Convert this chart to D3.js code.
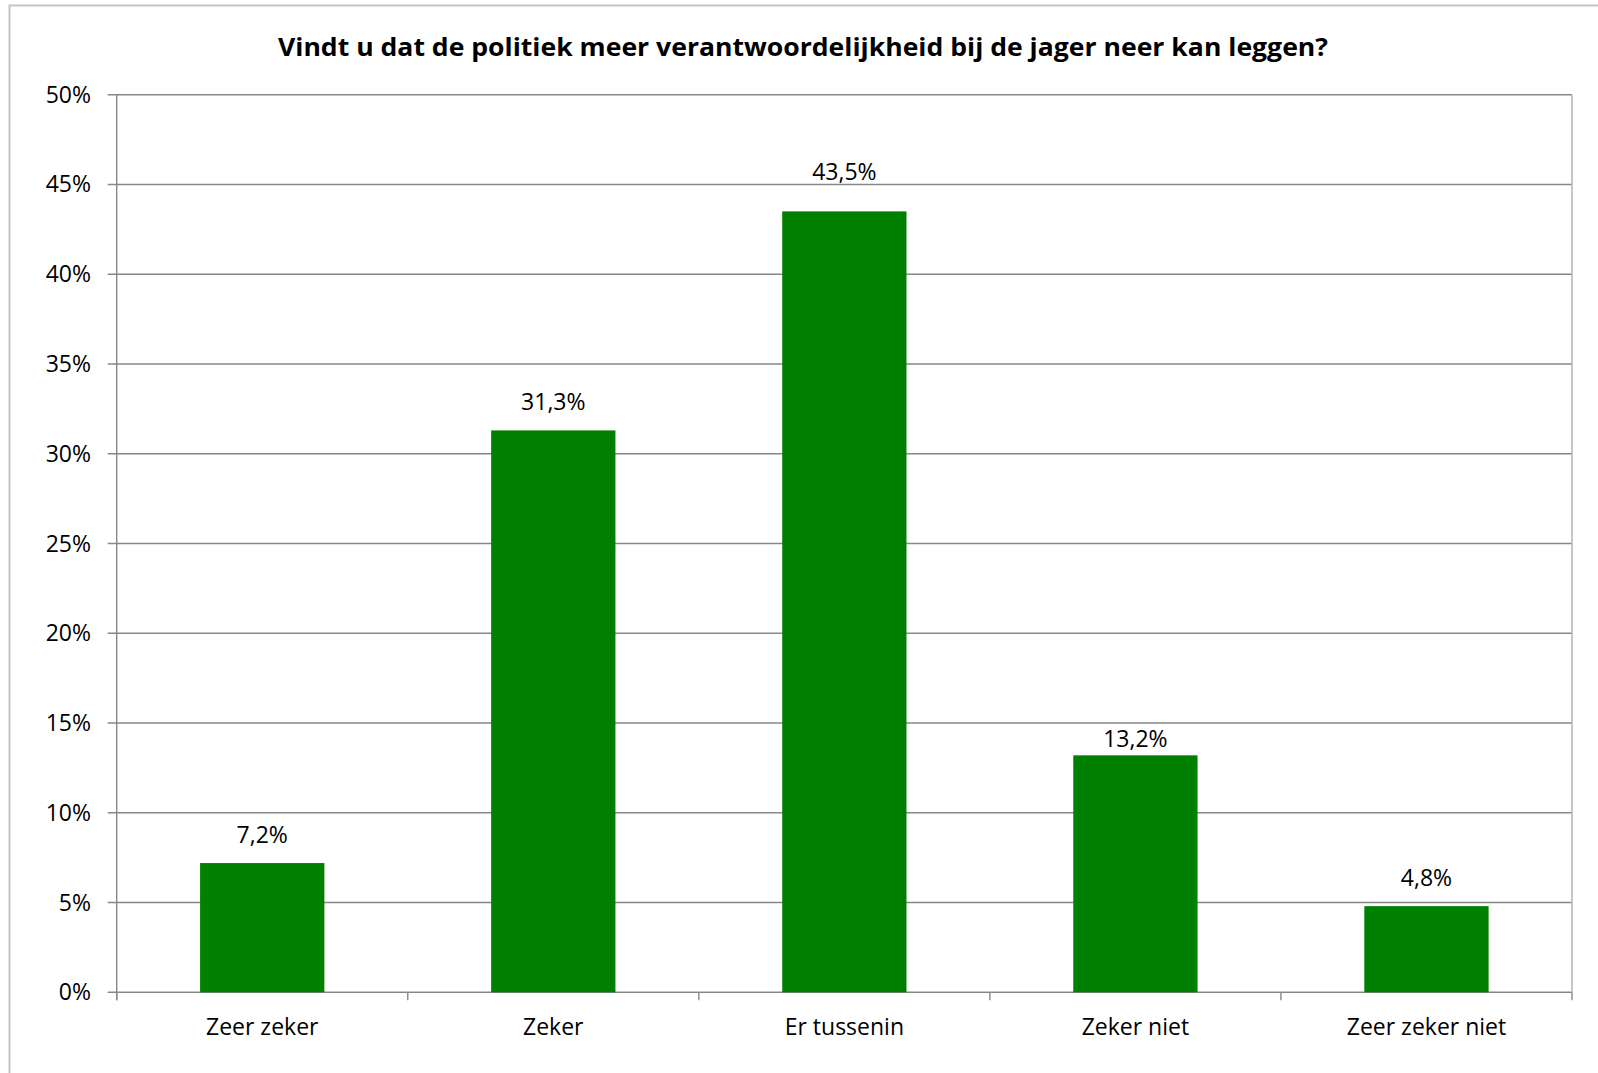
<!DOCTYPE html>
<html><head><meta charset="utf-8">
<script src="https://cdn.jsdelivr.net/npm/d3@7"></script>
<style>html,body{margin:0;padding:0;background:#fff;overflow:hidden}svg{display:block}text{font-variant-ligatures:none}</style>
</head><body>
<script>
const title = "Vindt u dat de politiek meer verantwoordelijkheid bij de jager neer kan leggen?";
const categories = ["Zeer zeker", "Zeker", "Er tussenin", "Zeker niet", "Zeer zeker niet"];
const values = [7.2, 31.3, 43.5, 13.2, 4.8];
const valueLabels = ["7,2%", "31,3%", "43,5%", "13,2%", "4,8%"];
const yTicks = [0, 5, 10, 15, 20, 25, 30, 35, 40, 45, 50];
const yTickLabels = ["0%", "5%", "10%", "15%", "20%", "25%", "30%", "35%", "40%", "45%", "50%"];

const W = 1598, H = 1073;
const font = "'Open Sans', sans-serif";
const fs = 23;
const gridColor = "#878787";
const svg = d3.select("body").append("svg").attr("width", W).attr("height", H);

// outer chart border
svg.append("path").attr("d", `M9.5,${H+2} V5.5 H${W+2}`)
  .attr("fill", "none").attr("stroke", "#c4c4c4").attr("stroke-width", 2);

const plot = {left: 116.7, right: 1572, top: 94.7, bottom: 992.3};
const x = d3.scaleBand().domain(categories).range([plot.left, plot.right]).padding(0);
const y = d3.scaleLinear().domain([0, 50]).range([plot.bottom, plot.top]);

// gridlines + left ticks
const g = svg.append("g");
g.selectAll("line.grid").data(yTicks).join("line")
  .attr("x1", plot.left - 9).attr("x2", plot.right)
  .attr("y1", d => y(d)).attr("y2", d => y(d))
  .attr("stroke", gridColor).attr("stroke-width", 1.4);
// y axis line
g.append("line").attr("x1", plot.left).attr("x2", plot.left)
  .attr("y1", plot.top).attr("y2", plot.bottom + 8)
  .attr("stroke", gridColor).attr("stroke-width", 1.4);
// right plot border
g.append("line").attr("x1", plot.right).attr("x2", plot.right)
  .attr("y1", plot.top).attr("y2", plot.bottom)
  .attr("stroke", "#b8b8b8").attr("stroke-width", 1.6);
// category ticks
const boundaries = categories.map(c => x(c)).concat([plot.right]);
g.selectAll("line.ctick").data(boundaries).join("line")
  .attr("x1", d => d).attr("x2", d => d)
  .attr("y1", plot.bottom).attr("y2", plot.bottom + 8)
  .attr("stroke", gridColor).attr("stroke-width", 1.4);

// y tick labels
svg.selectAll("text.ytick").data(yTicks).join("text")
  .attr("x", 91).attr("y", d => y(d) + 8)
  .attr("text-anchor", "end").attr("font-family", font).attr("font-size", fs)
  .attr("fill", "#000").text((d, i) => yTickLabels[i]);

// bars
const barW = x.bandwidth() * 0.427;
const data = categories.map((c, i) => ({c, v: values[i], label: valueLabels[i]}));
svg.selectAll("rect.bar").data(data).join("rect")
  .attr("x", d => x(d.c) + (x.bandwidth() - barW) / 2)
  .attr("width", barW)
  .attr("y", d => y(d.v)).attr("height", d => y(0) - y(d.v))
  .attr("fill", "#008000");

// data labels: above bar, nudged off gridlines
function labelBaseline(v) {
  const top = y(v);
  let b = top - 20;
  for (const t of yTicks) {
    const gy = y(t);
    if (gy > b - 19 && gy < b + 3) {
      const below = gy + 8.7 + 17;
      if (below + 5 <= top) b = below - 2; else b = gy - 4;
    }
  }
  return b;
}
svg.selectAll("text.vlabel").data(data).join("text")
  .attr("x", d => x(d.c) + x.bandwidth() / 2)
  .attr("y", d => labelBaseline(d.v))
  .attr("text-anchor", "middle").attr("font-family", font).attr("font-size", fs)
  .attr("fill", "#000").text(d => d.label);

// category labels
svg.selectAll("text.cat").data(categories).join("text")
  .attr("x", d => x(d) + x.bandwidth() / 2).attr("y", 1035)
  .attr("text-anchor", "middle").attr("font-family", font).attr("font-size", fs)
  .attr("fill", "#000").text(d => d);

// title
svg.append("text").attr("x", (278 + 1328) / 2).attr("y", 56)
  .attr("text-anchor", "middle").attr("font-family", font).attr("font-weight", "bold")
  .attr("font-size", 25).attr("fill", "#000")
  .attr("textLength", 1050).attr("lengthAdjust", "spacingAndGlyphs")
  .text(title);
</script>
</body></html>
